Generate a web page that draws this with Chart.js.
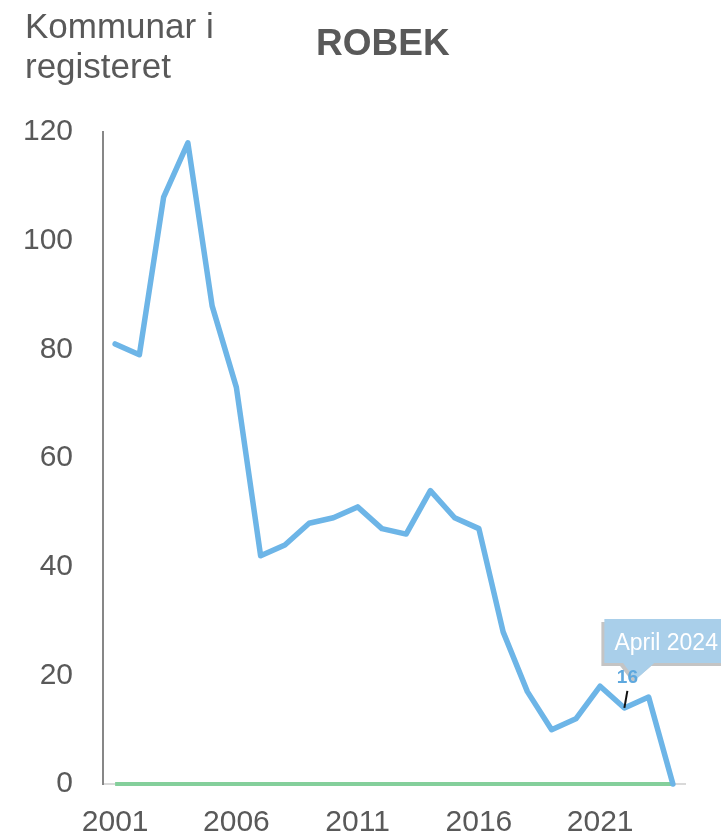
<!DOCTYPE html>
<html>
<head>
<meta charset="utf-8">
<script src="https://cdn.jsdelivr.net/npm/chart.js@4/dist/chart.umd.min.js"></script>
<style>
  html, body { margin: 0; padding: 0; background: #ffffff; }
  #wrap { position: relative; width: 721px; height: 837px; overflow: hidden; }
  #c { position: absolute; left: 0; top: 0; }
  .ytitle { position: absolute; left: 25px; top: 6px; font-family: "Liberation Sans", Arial, sans-serif; font-size: 35px; line-height: 40px; color: #595959; }
  .title { position: absolute; left: 316px; top: 22px; font-family: "Liberation Sans", Arial, sans-serif; font-size: 37px; font-weight: bold; color: #595959; }
</style>
</head>
<body>
<div id="wrap">
  <canvas id="c" width="721" height="837"></canvas>
  <div class="ytitle">Kommunar i<br>registeret</div>
  <div class="title">ROBEK</div>
</div>
<script>
const years = ['2001','2002','2003','2004','2005','2006','2007','2008','2009','2010','2011','2012',
               '2013','2014','2015','2016','2017','2018','2019','2020','2021','2022','2023','2024'];
const robek = [81, 79, 108, 118, 88, 73, 42, 44, 48, 49, 51, 47, 46, 54, 49, 47, 28, 17, 10, 12, 18, 14, 16, 0];
const baseline = [0,0,0,0,0,0,0,0,0,0,0,0,0,0,0,0,0,0,0,0,0,0,0,0];
const yTicks = [0, 20, 40, 60, 80, 100, 120];
const calloutText = 'April 2024';
const calloutValue = '16';
const calloutIndex = 21;

const FONT = '"Liberation Sans", Arial, sans-serif';

const calloutPlugin = {
  id: 'callout',
  afterDatasetsDraw(chart) {
    const ctx = chart.ctx;
    const xs = chart.scales.x, ys = chart.scales.y;
    const px = xs.getPixelForValue(calloutIndex);
    const py = ys.getPixelForValue(robek[calloutIndex]);
    ctx.save();
    const rx = px - 20, ry = py - 89, rw = 130, rh = 44;
    // shadow
    ctx.fillStyle = '#c4c4c4';
    ctx.beginPath();
    ctx.rect(rx - 3, ry + 3, rw, rh);
    ctx.fill();
    ctx.beginPath();
    ctx.moveTo(px - 5, ry + rh + 2);
    ctx.lineTo(px + 28, ry + rh + 2);
    ctx.lineTo(px + 8, py - 26);
    ctx.closePath();
    ctx.fill();
    // box
    ctx.fillStyle = '#a9cfea';
    ctx.beginPath();
    ctx.rect(rx, ry, rw, rh);
    ctx.fill();
    ctx.beginPath();
    ctx.moveTo(px - 2, ry + rh - 1);
    ctx.lineTo(px + 31, ry + rh - 1);
    ctx.lineTo(px + 11, py - 28);
    ctx.closePath();
    ctx.fill();
    ctx.fillStyle = '#ffffff';
    ctx.font = '23px ' + FONT;
    ctx.textAlign = 'left';
    ctx.textBaseline = 'alphabetic';
    ctx.fillText(calloutText, rx + 10, ry + 31);
    // value label
    ctx.fillStyle = '#5ea8de';
    ctx.font = 'bold 19px ' + FONT;
    ctx.textAlign = 'center';
    ctx.fillText(calloutValue, px + 3, py - 25);
    // leader line
    ctx.strokeStyle = '#111111';
    ctx.lineWidth = 2;
    ctx.beginPath();
    ctx.moveTo(px + 3, py - 17);
    ctx.lineTo(px, py);
    ctx.stroke();
    ctx.restore();
  }
};

new Chart(document.getElementById('c'), {
  type: 'line',
  data: {
    labels: years,
    datasets: [
      {
        label: 'ROBEK',
        data: robek,
        borderColor: '#6db5e7',
        borderWidth: 5.5,
        pointRadius: 0,
        tension: 0,
        borderJoinStyle: 'round',
        borderCapStyle: 'round',
        order: 1,
        clip: false
      },
      {
        label: 'Null',
        data: baseline,
        borderColor: '#84cf9b',
        borderWidth: 4,
        pointRadius: 0,
        tension: 0,
        order: 2,
        clip: false
      }
    ]
  },
  options: {
    responsive: false,
    animation: false,
    layout: { padding: { top: 132, right: 36, left: 0, bottom: 0 } },
    plugins: { legend: { display: false }, tooltip: { enabled: false }, title: { display: false } },
    scales: {
      x: {
        type: 'category',
        offset: true,
        grid: { display: false, drawTicks: false },
        border: { display: true, color: '#d9d9d9', width: 2 },
        ticks: {
          autoSkip: false,
          maxRotation: 0,
          padding: 21,
          color: '#595959',
          font: { family: FONT, size: 30 },
          callback: function(v, i) { return i % 5 === 0 ? years[i] : ''; }
        },
        afterFit(scale) { scale.height = 53; }
      },
      y: {
        min: 0,
        max: 120,
        afterBuildTicks(scale) { scale.ticks = yTicks.map(v => ({ value: v })); },
        grid: { display: false, drawTicks: false },
        border: { display: true, color: '#878787', width: 2 },
        ticks: {
          padding: 30,
          color: '#595959',
          font: { family: FONT, size: 30 }
        },
        afterFit(scale) { scale.width = 103; }
      }
    }
  },
  plugins: [calloutPlugin]
});
</script>
</body>
</html>
